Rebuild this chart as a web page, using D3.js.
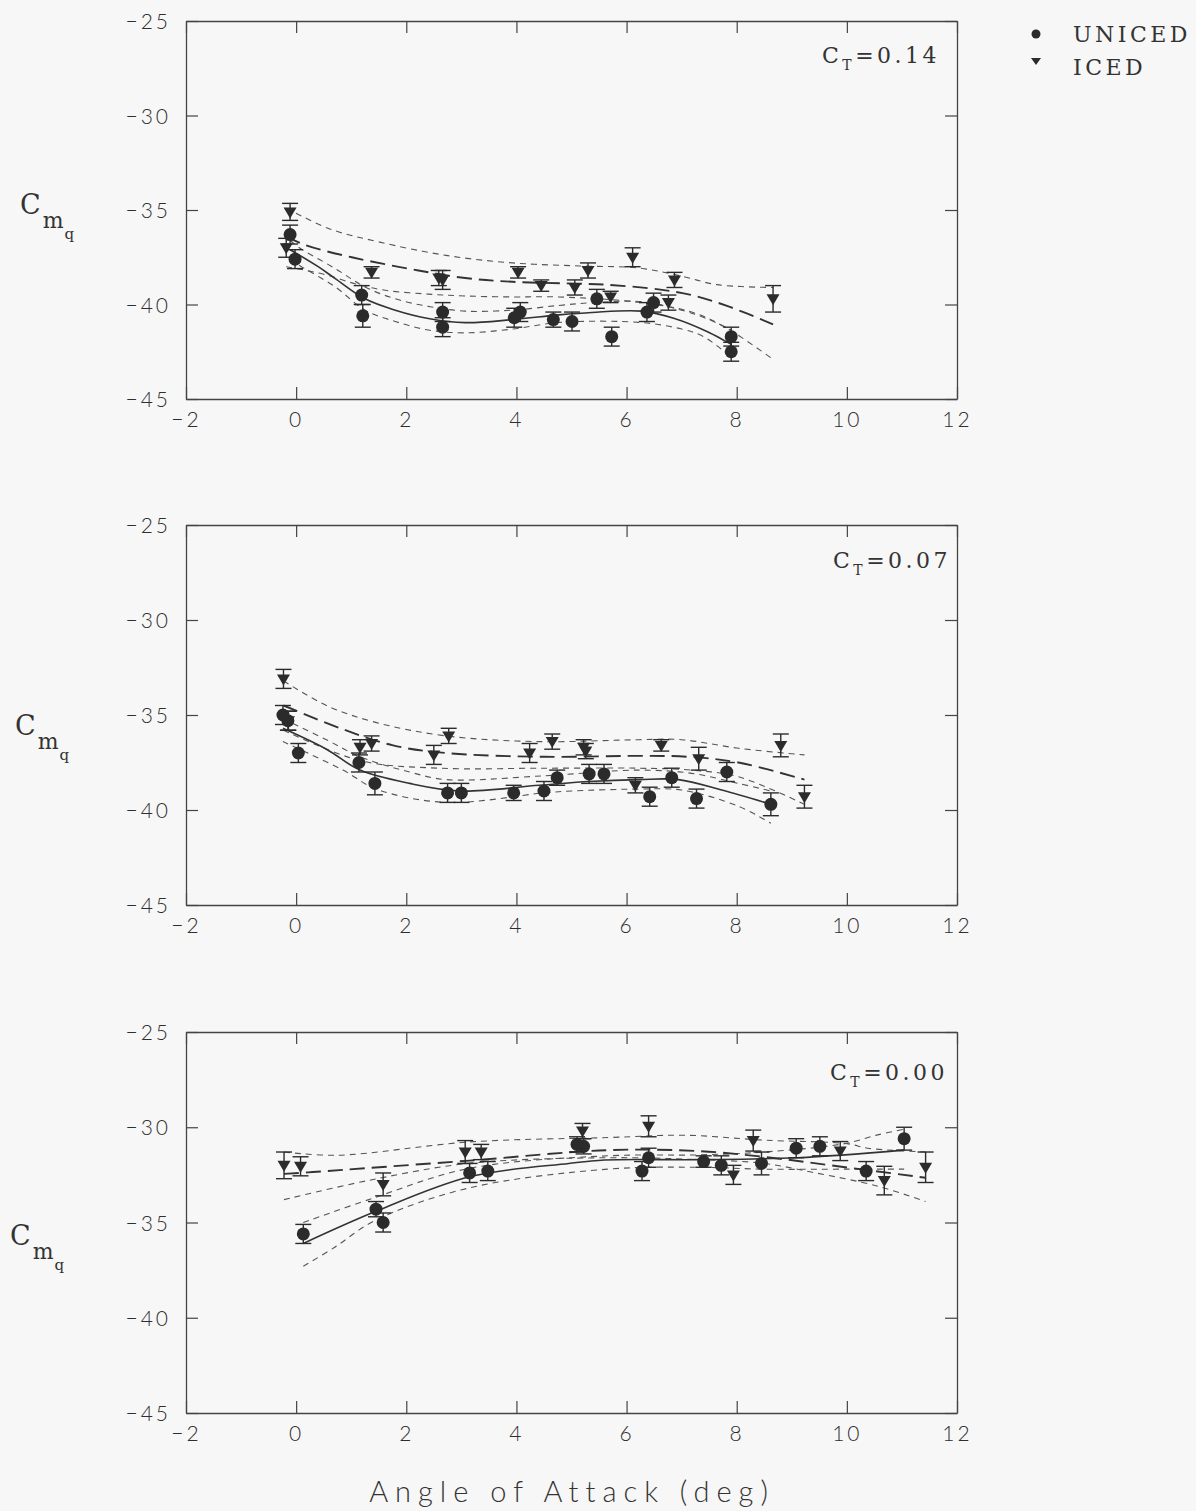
<!DOCTYPE html>
<html><head><meta charset="utf-8">
<script src="https://cdn.jsdelivr.net/npm/d3@7"></script>
<style>
body{margin:0;background:#f7f7f7}
.tick text{font-family:Lato,"DejaVu Sans",sans-serif;font-weight:300;font-size:21px;fill:#2e2e2e;letter-spacing:3px}
</style></head><body>
<svg id="c" width="1196" height="1511"></svg>
<script>
// ---------- data ----------
const xTicks = [-2, 0, 2, 4, 6, 8, 10, 12];
const yTicks = [-25, -30, -35, -40, -45];
const ctLabels = ["0.14", "0.07", "0.00"];
const seriesNames = ["UNICED", "ICED"];

// points: [alpha, Cmq, error]
const uniced014 = [[-0.11,-36.3,0.5],[-0.02,-37.6,0.5],[1.19,-39.5,0.5],[1.21,-40.6,0.6],[2.66,-40.4,0.5],[2.66,-41.2,0.5],[3.96,-40.7,0.5],[4.07,-40.4,0.5],[4.67,-40.8,0.4],[5.01,-40.9,0.5],[5.46,-39.7,0.5],[5.73,-41.7,0.5],[6.37,-40.4,0.5],[6.49,-39.9,0.5],[7.90,-41.7,0.5],[7.90,-42.5,0.5]];
const iced014 = [[-0.11,-35.1,0.45],[-0.18,-37.0,0.5],[1.37,-38.3,0.3],[2.59,-38.6,0.4],[2.66,-38.7,0.5],[4.03,-38.3,0.3],[4.45,-39.0,0.3],[5.06,-39.1,0.4],[5.30,-38.2,0.4],[5.71,-39.6,0.3],[6.11,-37.5,0.5],[6.76,-39.9,0.4],[6.87,-38.7,0.4],[8.66,-39.7,0.7]];
const unicedFit014 = [[-0.11,-37.1],[0.4,-38.0],[0.71,-38.63],[1.25,-39.7],[1.8,-40.3],[2.4,-40.74],[3.07,-40.96],[3.93,-40.8],[4.77,-40.55],[5.37,-40.42],[6.27,-40.35],[6.87,-40.74],[7.47,-41.44],[7.77,-41.9],[7.9,-42.1]];
const unicedUp014 = [[-0.11,-36.6],[0.04,-36.96],[0.71,-38.1],[1.25,-39.07],[1.8,-39.7],[2.4,-40.1],[3.07,-40.35],[3.93,-40.3],[4.77,-40.05],[5.4,-39.9],[6.27,-39.85],[7.0,-40.3],[7.5,-40.8],[7.9,-41.35]];
const unicedLo014 = [[-0.11,-37.6],[0.04,-37.9],[0.71,-39.07],[1.25,-40.3],[1.8,-40.9],[2.4,-41.35],[3.07,-41.5],[3.93,-41.3],[4.77,-40.95],[6.25,-40.95],[7.0,-41.3],[7.4,-41.7],[7.9,-42.8]];
const icedFit014 = [[-0.18,-36.4],[0.16,-36.85],[1.01,-37.5],[2.22,-38.2],[3.07,-38.6],[3.93,-38.8],[5.14,-38.9],[5.62,-38.95],[6.58,-39.2],[7.18,-39.5],[7.85,-40.1],[8.66,-41.05]];
const icedUp014 = [[-0.18,-34.9],[0.61,-36.0],[1.52,-36.7],[2.72,-37.4],[3.93,-37.8],[5.14,-37.96],[6.22,-38.07],[7.0,-38.5],[7.64,-38.95],[8.66,-39.1]];
const icedLo014 = [[-0.18,-38.0],[0.5,-38.4],[1.07,-38.9],[1.62,-39.25],[2.4,-39.45],[3.07,-39.55],[3.93,-39.6],[4.77,-39.6],[6.27,-39.9],[7.18,-40.4],[7.79,-41.2],[8.66,-42.9]];

const uniced007 = [[-0.24,-35.0,0.5],[-0.15,-35.3,0.5],[0.04,-37.0,0.5],[1.14,-37.5,0.5],[1.43,-38.6,0.6],[2.75,-39.1,0.5],[3.0,-39.1,0.5],[3.95,-39.1,0.4],[4.50,-39.0,0.5],[4.74,-38.3,0.4],[5.32,-38.1,0.5],[5.59,-38.1,0.5],[6.42,-39.3,0.5],[6.82,-38.3,0.5],[7.27,-39.4,0.5],[7.82,-38.0,0.5],[8.62,-39.7,0.6]];
const iced007 = [[-0.23,-33.1,0.5],[-0.14,-35.3,0.5],[1.16,-36.7,0.4],[1.37,-36.5,0.4],[2.50,-37.1,0.5],[2.77,-36.1,0.4],[4.24,-37.0,0.5],[4.65,-36.4,0.4],[5.22,-36.7,0.4],[5.26,-36.9,0.4],[6.16,-38.7,0.4],[6.63,-36.6,0.3],[7.31,-37.3,0.6],[8.80,-36.6,0.6],[9.23,-39.3,0.6]];
const unicedFit007 = [[-0.24,-35.7],[0.55,-36.8],[1.16,-37.9],[2.06,-38.6],[2.97,-39.0],[4.41,-38.7],[5.32,-38.5],[6.22,-38.4],[6.94,-38.4],[7.73,-38.95],[8.62,-39.7]];
const unicedUp007 = [[-0.24,-35.2],[0.55,-36.3],[1.16,-37.2],[2.06,-38.0],[2.72,-38.4],[4.5,-38.2],[6.22,-37.9],[7.18,-38.07],[8.03,-38.6],[8.62,-39.0]];
const unicedLo007 = [[-0.24,-36.4],[0.85,-37.9],[1.46,-38.9],[2.72,-39.6],[4.5,-39.1],[5.0,-39.0],[6.22,-38.9],[7.0,-38.95],[8.03,-39.8],[8.62,-40.7]];
const icedFit007 = [[-0.23,-34.5],[0.8,-35.7],[1.76,-36.6],[2.72,-37.0],[4.5,-37.2],[6.22,-37.15],[7.12,-37.2],[8.03,-37.5],[9.23,-38.4]];
const icedUp007 = [[-0.23,-33.2],[0.55,-34.5],[1.46,-35.4],[2.72,-36.1],[4.41,-36.4],[6.22,-36.3],[7.0,-36.3],[8.03,-36.75],[9.23,-37.1]];
const icedLo007 = [[-0.23,-35.8],[1.16,-37.4],[2.6,-37.8],[4.5,-37.8],[6.22,-37.8],[7.18,-37.9],[8.03,-38.25],[9.23,-39.7]];

const uniced000 = [[0.13,-35.6,0.5],[1.45,-34.3,0.4],[1.58,-35.0,0.5],[3.15,-32.4,0.5],[3.48,-32.3,0.5],[5.10,-30.9,0.4],[5.22,-31.0,0.4],[6.28,-32.3,0.5],[6.40,-31.6,0.5],[7.40,-31.8,0.3],[7.72,-32.0,0.5],[8.45,-31.9,0.6],[9.08,-31.1,0.5],[9.51,-31.0,0.5],[10.35,-32.3,0.5],[11.04,-30.6,0.6]];
const iced000 = [[-0.22,-32.0,0.7],[0.08,-32.05,0.5],[1.58,-33.0,0.6],[3.07,-31.3,0.6],[3.36,-31.3,0.4],[5.20,-30.2,0.4],[6.40,-29.95,0.55],[7.94,-32.5,0.5],[8.30,-30.7,0.55],[9.88,-31.25,0.5],[10.68,-32.8,0.75],[11.43,-32.1,0.8]];
const unicedFit000 = [[0.13,-36.1],[1.46,-34.4],[3.15,-32.6],[4.95,-31.9],[5.6,-31.72],[7.31,-31.7],[9.1,-31.6],[11.04,-31.2]];
const unicedUp000 = [[0.13,-35.0],[1.37,-33.75],[3.12,-32.17],[5.66,-31.5],[7.3,-31.45],[8.5,-31.3],[9.96,-30.86],[10.56,-30.4],[11.04,-30.1]];
const unicedLo000 = [[0.13,-37.3],[0.70,-36.3],[1.43,-34.9],[3.12,-33.2],[5.66,-32.2],[7.3,-32.1],[8.5,-32.2],[10.0,-32.2],[11.04,-32.2]];
const icedFit000 = [[-0.22,-32.45],[0.3,-32.35],[3.15,-31.75],[5.68,-31.2],[7.31,-31.25],[8.51,-31.56],[9.71,-32.0],[11.43,-32.65]];
const icedUp000 = [[-0.22,-31.3],[0.74,-31.47],[3.15,-30.77],[5.68,-30.54],[7.06,-30.42],[8.51,-30.68],[10.0,-30.86],[10.38,-31.1],[11.43,-31.3]];
const icedLo000 = [[-0.22,-33.8],[1.3,-32.8],[3.12,-31.9],[5.66,-31.6],[7.3,-31.7],[8.5,-31.9],[9.35,-32.35],[10.57,-33.1],[11.43,-33.9]];

// ---------- layout ----------
const W = 1196, H = 1511;
const panelTops = [21, 525, 1032];
const panelBottoms = [399, 905, 1413];
const ylabX = [20, 15, 10];
const ylabBase = [214, 735, 1245];
const ctX = [822, 833, 830];
const ctBase = [63, 568, 1080];

const panels = [
  {ct: ctLabels[0], u: uniced014, i: iced014, uf: unicedFit014, uu: unicedUp014, ul: unicedLo014, f: icedFit014, fu: icedUp014, fl: icedLo014},
  {ct: ctLabels[1], u: uniced007, i: iced007, uf: unicedFit007, uu: unicedUp007, ul: unicedLo007, f: icedFit007, fu: icedUp007, fl: icedLo007},
  {ct: ctLabels[2], u: uniced000, i: iced000, uf: unicedFit000, uu: unicedUp000, ul: unicedLo000, f: icedFit000, fu: icedUp000, fl: icedLo000}
];

const svg = d3.select("#c");
svg.append("rect").attr("width", W).attr("height", H).attr("fill", "#f7f7f7");

const x = d3.scaleLinear().domain([-2, 12]).range([186, 957]);
const ink = "#2b2b2b";
const serif = "'DejaVu Serif', 'Liberation Serif', serif";
const sans = "Lato, 'DejaVu Sans', sans-serif";

panels.forEach((p, k) => {
  const top = panelTops[k], bot = panelBottoms[k];
  const y = d3.scaleLinear().domain([-45, -25]).range([bot, top]);
  const g = svg.append("g");

  // axes
  const axL = g.append("g").attr("transform", `translate(${x(-2)},0)`)
    .call(d3.axisLeft(y).tickValues(yTicks).tickSize(-12).tickSizeOuter(0).tickPadding(15));
  const axR = g.append("g").attr("transform", `translate(${x(12)},0)`)
    .call(d3.axisRight(y).tickValues(yTicks).tickSize(-12).tickSizeOuter(0).tickFormat(""));
  const axB = g.append("g").attr("transform", `translate(0,${bot})`)
    .call(d3.axisBottom(x).tickValues(xTicks).tickSize(-12).tickSizeOuter(0).tickPadding(13));
  const axT = g.append("g").attr("transform", `translate(0,${top})`)
    .call(d3.axisTop(x).tickValues(xTicks).tickSize(-12).tickSizeOuter(0).tickFormat(""));
  [axL, axR, axB, axT].forEach(a => {
    a.selectAll("path.domain").attr("stroke", "#444").attr("stroke-width", 1.3);
    a.selectAll(".tick line").attr("stroke", "#444").attr("stroke-width", 1.2);
  });
  axL.selectAll(".tick text").attr("dy", "0.36em");

  // curves
  const line = d3.line().x(d => x(d[0])).y(d => y(d[1])).curve(d3.curveCatmullRom.alpha(0.5));
  const band = (data) => g.append("path").attr("d", line(data)).attr("fill", "none")
    .attr("stroke", "#555").attr("stroke-width", 1.1).attr("stroke-dasharray", "6,5");
  band(p.fu); band(p.fl); band(p.uu); band(p.ul);
  g.append("path").attr("d", line(p.f)).attr("fill", "none").attr("stroke", "#333")
    .attr("stroke-width", 1.9).attr("stroke-dasharray", "15,7");
  g.append("path").attr("d", line(p.uf)).attr("fill", "none").attr("stroke", "#333")
    .attr("stroke-width", 1.6);

  // error bars
  const drawErr = (data) => {
    const eg = g.append("g").attr("stroke", ink).attr("stroke-width", 1.4);
    data.forEach(d => {
      const cx = x(d[0]), y1 = y(d[1] + d[2]), y2 = y(d[1] - d[2]);
      eg.append("line").attr("x1", cx).attr("x2", cx).attr("y1", y1).attr("y2", y2);
      eg.append("line").attr("x1", cx - 8).attr("x2", cx + 8).attr("y1", y1).attr("y2", y1);
      eg.append("line").attr("x1", cx - 8).attr("x2", cx + 8).attr("y1", y2).attr("y2", y2);
    });
  };
  drawErr(p.i); drawErr(p.u);

  // markers
  g.append("g").selectAll("circle").data(p.u).join("circle")
    .attr("cx", d => x(d[0])).attr("cy", d => y(d[1])).attr("r", 6.5).attr("fill", ink);
  g.append("g").selectAll("path").data(p.i).join("path")
    .attr("transform", d => `translate(${x(d[0])},${y(d[1])})`)
    .attr("d", "M-6.5,-4.5L6.5,-4.5L0,6.5Z").attr("fill", ink);

  // C_T label
  const ct = svg.append("text").attr("x", ctX[k]).attr("y", ctBase[k])
    .attr("font-family", serif).attr("font-size", 22).attr("fill", "#333").attr("letter-spacing", 3.5);
  ct.append("tspan").text("C");
  ct.append("tspan").attr("dy", 7).attr("font-size", 14).text("T");
  ct.append("tspan").attr("dy", -7).text("=" + p.ct);

  // y label C_mq
  const yl = svg.append("text").attr("x", ylabX[k]).attr("y", ylabBase[k])
    .attr("font-family", serif).attr("font-size", 27).attr("fill", "#333");
  yl.append("tspan").text("C");
  yl.append("tspan").attr("dy", 14).attr("dx", 2).attr("font-size", 22).text("m");
  yl.append("tspan").attr("dy", 11).attr("dx", 1).attr("font-size", 15).text("q");
});

// legend
const lg = svg.append("g");
lg.append("circle").attr("cx", 1036).attr("cy", 34).attr("r", 4.5).attr("fill", ink);
lg.append("path").attr("transform", "translate(1036,61)").attr("d", "M-5,-3L5,-3L0,4Z").attr("fill", ink);
lg.append("text").attr("x", 1073).attr("y", 42).attr("font-family", serif).attr("font-size", 22)
  .attr("letter-spacing", 3.5).attr("fill", "#333").text(seriesNames[0]);
lg.append("text").attr("x", 1073).attr("y", 75).attr("font-family", serif).attr("font-size", 22)
  .attr("letter-spacing", 3.5).attr("fill", "#333").text(seriesNames[1]);

// x-axis title
svg.append("text").attr("x", 572).attr("y", 1502).attr("text-anchor", "middle")
  .attr("font-family", sans).attr("font-weight", 300).attr("font-size", 29)
  .attr("letter-spacing", 7).attr("fill", "#333").text("Angle of Attack (deg)");
</script>
</body></html>
